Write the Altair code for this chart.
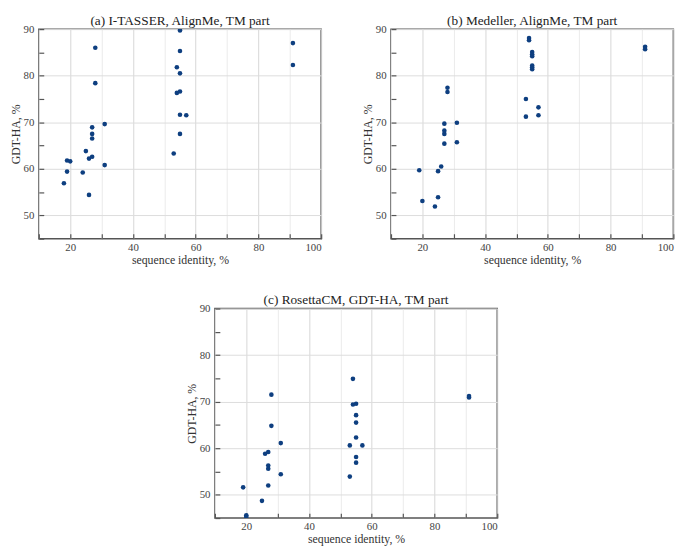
import altair as alt
import pandas as pd

# Panel (a) I-TASSER
a_x = [18, 19, 19, 20, 24, 25, 26, 26, 27, 27, 27, 27, 28, 28, 31, 31,
       53, 54, 54, 55, 55, 55, 55, 55, 55, 57, 91, 91]
a_y = [56.9, 59.4, 61.8, 61.6, 59.2, 63.8, 54.4, 62.2, 62.6, 66.5, 67.5, 68.9, 78.4, 86.0, 69.6, 60.8,
       63.3, 81.8, 76.3, 89.7, 85.3, 80.5, 76.6, 71.6, 67.5, 71.5, 87.0, 82.3]

# Panel (b) Medeller
b_x = [19, 20, 24, 25, 25, 26, 27, 27, 27, 27, 28, 28, 31, 31,
       53, 53, 54, 54, 55, 55, 55, 55, 55, 55, 57, 57, 91, 91]
b_y = [59.7, 53.1, 51.9, 53.9, 59.5, 60.5, 65.4, 67.5, 68.2, 69.7, 77.4, 76.5, 69.9, 65.7,
       75.0, 71.2, 88.1, 87.6, 85.1, 84.6, 84.2, 82.2, 81.8, 81.4, 73.2, 71.5, 86.2, 85.7]

# Panel (c) RosettaCM
c_x = [19, 20, 20, 25, 26, 27, 27, 27, 27, 28, 28, 31, 31,
       53, 53, 54, 54, 55, 55, 55, 55, 55, 55, 57, 91, 91]
c_y = [51.6, 45.6, 45.3, 48.7, 58.8, 59.2, 56.3, 55.6, 52.0, 71.5, 64.8, 61.1, 54.4,
       60.6, 53.9, 74.9, 69.4, 69.55, 67.1, 65.5, 62.3, 58.1, 56.9, 60.6, 71.2, 70.9]

titles = ["(a) I-TASSER, AlignMe, TM part",
          "(b) Medeller, AlignMe, TM part",
          "(c) RosettaCM, GDT-HA, TM part"]
x_ticks = list(range(10, 101, 10))
y_ticks = list(range(45, 91, 5))

FONT = "Liberation Serif"
W, H = 287, 213


def panel(xs, ys, title):
    df = pd.DataFrame({"x": xs, "y": ys})
    common = dict(domain=False, tickSize=5, tickColor="#555", tickWidth=1.2, offset=-5,
                  labelFont=FONT, titleFont=FONT, labelFontSize=11, titleFontSize=12,
                  labelColor="#444", titleColor="#333", titleFontWeight="normal")
    xaxis = alt.Axis(
        values=x_ticks,
        labelExpr="datum.value % 20 === 0 ? datum.label : ''",
        labelPadding=3, titlePadding=2,
        gridColor={"condition": {"test": "datum.value % 20 === 0", "value": "#d6d6d6"},
                   "value": "#ebebeb"},
        **common,
    )
    yaxis = alt.Axis(
        values=y_ticks,
        labelExpr="datum.value % 10 === 0 ? datum.label : ''",
        labelPadding=5, titlePadding=1,
        gridOpacity={"condition": {"test": "datum.value % 10 === 0", "value": 1},
                     "value": 0},
        gridColor="#dcdcdc",
        **common,
    )
    return alt.Chart(df, title=alt.Title(title, fontSize=13.5, font=FONT, fontWeight="normal",
                                         color="#222", offset=-4, frame="group")).mark_circle(
        size=22, color="#0e3f80", opacity=1, clip=True
    ).encode(
        x=alt.X("x:Q", scale=alt.Scale(domain=[10, 100], nice=False, zero=False),
                axis=xaxis, title="sequence identity, %"),
        y=alt.Y("y:Q", scale=alt.Scale(domain=[45, 90], nice=False, zero=False),
                axis=yaxis, title="GDT-HA, %"),
    ).properties(width=W, height=H)


pa = panel(a_x, a_y, titles[0])
pb = panel(b_x, b_y, titles[1])
pc = panel(c_x, c_y, titles[2])

top = alt.hconcat(pa, pb, spacing=38)
chart = alt.vconcat(top, pc, spacing=26, center=True).properties(
    padding=0, background="white"
).configure_view(
    stroke="#555", strokeWidth=1.5
)

chart.save("out.html", embed_options={"renderer": "svg", "actions": False})
